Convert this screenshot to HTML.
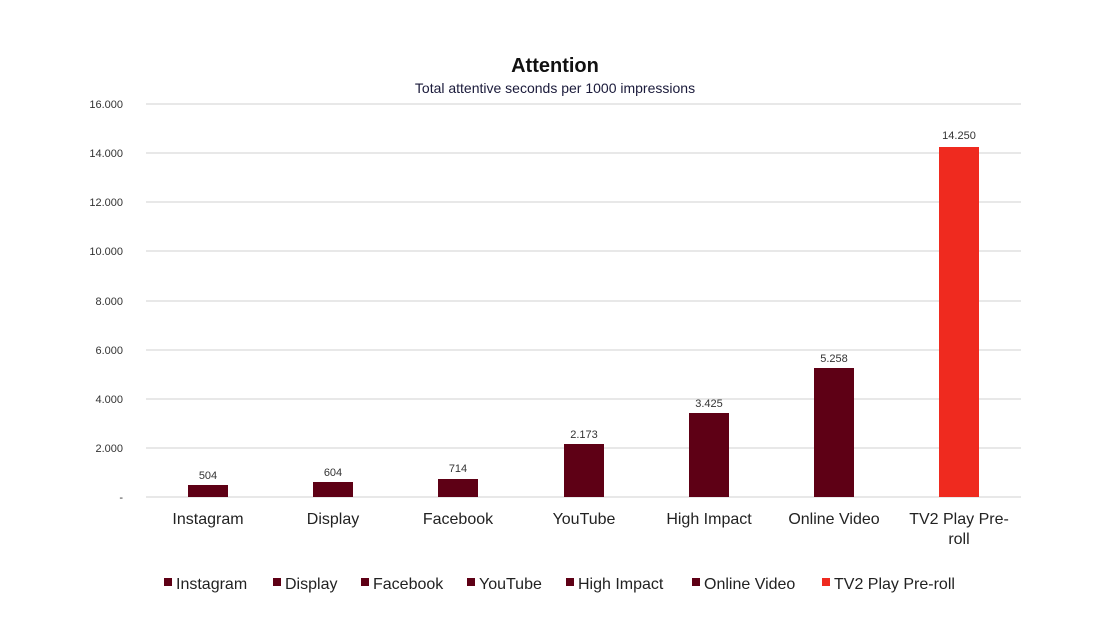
<!DOCTYPE html>
<html><head><meta charset="utf-8"><style>
body{margin:0;background:#fff;}
svg{display:block;font-family:"Liberation Sans",sans-serif;}
</style></head><body>
<svg width="1110" height="624" viewBox="0 0 1110 624">
<rect width="1110" height="624" fill="#fff"/>
<text x="555" y="72" text-anchor="middle" font-size="20" font-weight="bold" fill="#111">Attention</text>
<text x="555" y="93" text-anchor="middle" font-size="14" fill="#1a1a3a">Total attentive seconds per 1000 impressions</text>
<g stroke="#d9d9d9" stroke-width="1.2">
<line x1="146" x2="1021" y1="104" y2="104"/>
<line x1="146" x2="1021" y1="153" y2="153"/>
<line x1="146" x2="1021" y1="202" y2="202"/>
<line x1="146" x2="1021" y1="251" y2="251"/>
<line x1="146" x2="1021" y1="301" y2="301"/>
<line x1="146" x2="1021" y1="350" y2="350"/>
<line x1="146" x2="1021" y1="399" y2="399"/>
<line x1="146" x2="1021" y1="448" y2="448"/>
<line x1="146" x2="1021" y1="497" y2="497"/>
</g>
<g font-size="11" fill="#333" text-anchor="end">
<text x="123" y="108">16.000</text>
<text x="123" y="157">14.000</text>
<text x="123" y="206">12.000</text>
<text x="123" y="255">10.000</text>
<text x="123" y="305">8.000</text>
<text x="123" y="354">6.000</text>
<text x="123" y="403">4.000</text>
<text x="123" y="452">2.000</text>
<text x="123" y="501">-</text>
</g>
<g fill="#5e0015">
<rect x="188" y="485" width="40" height="12"/>
<rect x="313" y="482" width="40" height="15"/>
<rect x="438" y="479" width="40" height="18"/>
<rect x="564" y="444" width="40" height="53"/>
<rect x="689" y="413" width="40" height="84"/>
<rect x="814" y="368" width="40" height="129"/>
</g>
<rect x="939" y="147" width="40" height="350" fill="#ef2a1f"/>
<g font-size="11" fill="#333" text-anchor="middle">
<text x="208" y="479">504</text>
<text x="333" y="476">604</text>
<text x="458" y="472">714</text>
<text x="584" y="438">2.173</text>
<text x="709" y="407">3.425</text>
<text x="834" y="362">5.258</text>
<text x="959" y="139">14.250</text>
</g>
<g font-size="16" fill="#222" text-anchor="middle">
<text x="208" y="524">Instagram</text>
<text x="333" y="524">Display</text>
<text x="458" y="524">Facebook</text>
<text x="584" y="524">YouTube</text>
<text x="709" y="524">High Impact</text>
<text x="834" y="524">Online Video</text>
<text x="959" y="524">TV2 Play Pre-</text>
<text x="959" y="544">roll</text>
</g>
<g font-size="16" fill="#222">
<rect x="164" y="578" width="8" height="8" fill="#5e0015"/><text x="176" y="589">Instagram</text>
<rect x="273" y="578" width="8" height="8" fill="#5e0015"/><text x="285" y="589">Display</text>
<rect x="361" y="578" width="8" height="8" fill="#5e0015"/><text x="373" y="589">Facebook</text>
<rect x="467" y="578" width="8" height="8" fill="#5e0015"/><text x="479" y="589">YouTube</text>
<rect x="566" y="578" width="8" height="8" fill="#5e0015"/><text x="578" y="589">High Impact</text>
<rect x="692" y="578" width="8" height="8" fill="#5e0015"/><text x="704" y="589">Online Video</text>
<rect x="822" y="578" width="8" height="8" fill="#ef2a1f"/><text x="834" y="589">TV2 Play Pre-roll</text>
</g>
</svg>
</body></html>
